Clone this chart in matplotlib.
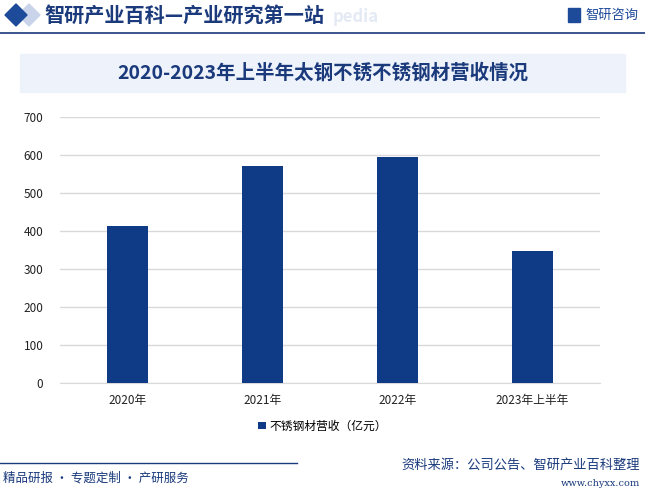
import matplotlib.pyplot as plt
from matplotlib.patches import Rectangle, Polygon
from matplotlib.lines import Line2D

plt.rcParams['font.family'] = ['Noto Sans CJK SC', 'DejaVu Sans']

# ----------------------------
# Data
# ----------------------------
categories = ['2020年', '2021年', '2022年', '2023年上半年']
revenue = [413, 571, 595, 347]
series_name = '不锈钢材营收（亿元）'
title = '2020-2023年上半年太钢不锈不锈钢材营收情况'

BAR_COLOR = '#0f3a85'
DARK_BLUE = '#1a3a7c'

W, H = 645, 488
fig = plt.figure(figsize=(W / 100, H / 100), dpi=100)


def fx(px):
    return px / W


def fy(py):
    return 1 - py / H


# ----------------------------
# Header
# ----------------------------
fig.patches.append(Polygon([[fx(29), fy(4)], [fx(40), fy(15)], [fx(29), fy(26)], [fx(18), fy(15)]],
                           closed=True, transform=fig.transFigure, color='#c9d4ea', zorder=1))
fig.patches.append(Polygon([[fx(16), fy(4)], [fx(27), fy(15)], [fx(16), fy(26)], [fx(5), fy(15)]],
                           closed=True, transform=fig.transFigure, color='#1e4a9a', zorder=2))
fig.text(fx(333), fy(17), 'pedia', fontsize=12, color='#e4eaf4',
         ha='left', va='center', fontweight='bold', zorder=1)
fig.text(fx(44), fy(15), '智研产业百科—产业研究第一站', fontsize=14.5, color=DARK_BLUE,
         ha='left', va='center', fontweight='bold', zorder=3)
fig.patches.append(Rectangle((fx(568), fy(22)), fx(12), 14 / H, transform=fig.transFigure,
                             color='#1e4a9a', zorder=2))
fig.text(fx(585), fy(15), '智研咨询', fontsize=9.5, color='#1e4a9a', ha='left', va='center')
fig.lines.append(Line2D([0, 1], [fy(33), fy(33)], transform=fig.transFigure,
                        color=DARK_BLUE, lw=1.2))

# ----------------------------
# Title box
# ----------------------------
fig.patches.append(Rectangle((fx(20), fy(92)), fx(605), 38 / H, transform=fig.transFigure,
                             color='#edf2fb', zorder=0))
fig.text(0.5, fy(73), title, fontsize=14, color=DARK_BLUE, ha='center', va='center',
         fontweight='bold')

# ----------------------------
# Chart
# ----------------------------
ax = fig.add_axes([fx(60), fy(383), fx(540), 266 / H])
x = range(len(categories))
ax.bar(x, revenue, width=0.31, color=BAR_COLOR, label=series_name, zorder=3)
ax.set_xlim(-0.5, len(categories) - 0.5)
ax.set_ylim(0, 700)
ax.set_yticks(range(0, 701, 100))
ax.set_xticks(list(x))
ax.set_xticklabels(categories)
ax.grid(axis='y', color='#d9d9d9', lw=1, zorder=0)
for s in ['top', 'right', 'left']:
    ax.spines[s].set_visible(False)
ax.spines['bottom'].set_color('#d9d9d9')
ax.tick_params(axis='both', length=0, labelsize=8.5, colors='#222222')
ax.tick_params(axis='y', pad=12)
ax.tick_params(axis='x', pad=8)

ax.legend(loc='center', bbox_to_anchor=(0.5, fy(426)), bbox_transform=fig.transFigure,
          frameon=False, fontsize=8.5, handlelength=0.6, handleheight=0.6, handletextpad=0.3)

# ----------------------------
# Footer
# ----------------------------
fig.lines.append(Line2D([0, fx(297)], [fy(463), fy(463)], transform=fig.transFigure,
                        color=DARK_BLUE, lw=1))
fig.text(fx(3), fy(478), '精品研报 · 专题定制 · 产研服务', fontsize=9, color=DARK_BLUE,
         ha='left', va='center')
fig.text(fx(640), fy(465), '资料来源：公司公告、智研产业百科整理', fontsize=9.5, color=DARK_BLUE,
         ha='right', va='center')
fig.text(fx(640), fy(483), 'www.chyxx.com', fontsize=7, color=DARK_BLUE, ha='right', va='center',
         family='DejaVu Serif')

fig.savefig('out.png', dpi=100)
